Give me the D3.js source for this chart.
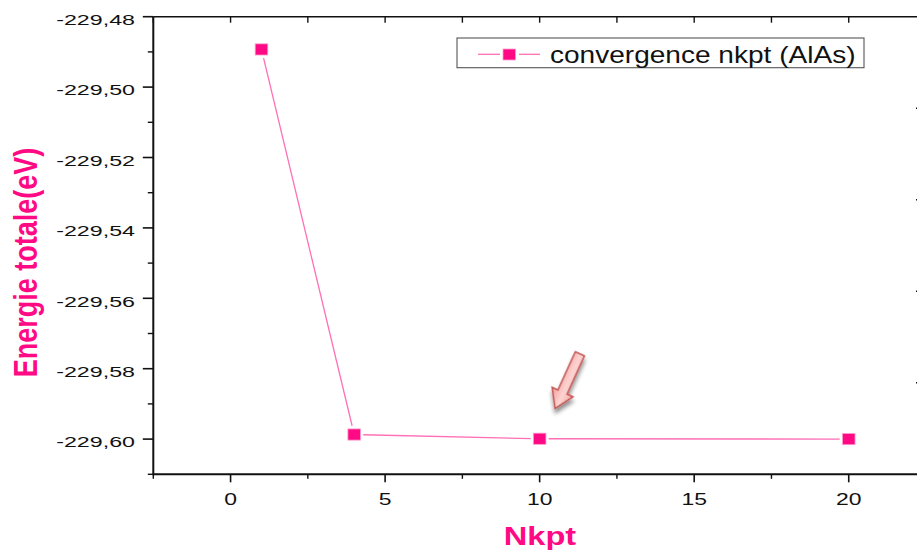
<!DOCTYPE html>
<html>
<head>
<meta charset="utf-8">
<script src="https://cdn.jsdelivr.net/npm/d3@7"></script>
<style>
  html, body { margin: 0; padding: 0; background: #fff; }
  svg { display: block; }
  text { font-family: Arial, "Liberation Sans", sans-serif; }
</style>
</head>
<body>
<svg id="chart" width="917" height="551"></svg>
<script>
// ---- data ----
const nkpt = [1, 4, 10, 20];
const energy = [-229.4893, -229.5987, -229.5999, -229.6000];
const seriesName = "convergence nkpt (AlAs)";
const xTicksMajor = [0, 5, 10, 15, 20];
const xTicksMinor = [-2.5, 2.5, 7.5, 12.5, 17.5, 22.5];
const yTicksMajor = [-229.60, -229.58, -229.56, -229.54, -229.52, -229.50, -229.48];
const yTicksMinor = [-229.61, -229.59, -229.57, -229.55, -229.53, -229.51, -229.49];
const rightTicks = [1, 2, 3, 4];
const arrowTip = [10.5, -229.5913];
const xTitle = "Nkpt";
const yTitle = "Energie totale(eV)";

const fmt = v => v.toFixed(2).replace(".", ",");

const svg = d3.select("#chart");
const L = 153.3, R = 926, T = 16.7, B = 474.3;
const x = d3.scaleLinear().domain([-2.5, 22.5]).range([L, R]);
const y = d3.scaleLinear().domain([-229.61, -229.48]).range([B, T]);
const yR = d3.scaleLinear().domain([0, 5]).range([B, T]);

const pink = "#ff0a84";
const lineCol = "#ff6fb6";

// ---- axes ----
const axisG = svg.append("g").attr("stroke", "#111").attr("fill", "none");
// frame lines
axisG.append("line").attr("x1", L).attr("x2", R).attr("y1", B).attr("y2", B).attr("stroke-width", 2);
axisG.append("line").attr("x1", L).attr("x2", R).attr("y1", T).attr("y2", T).attr("stroke-width", 1.6);
axisG.append("line").attr("x1", L).attr("x2", L).attr("y1", T).attr("y2", B + 1).attr("stroke-width", 2);
axisG.append("line").attr("x1", R).attr("x2", R).attr("y1", T).attr("y2", B).attr("stroke-width", 2);

// bottom ticks (outward)
xTicksMajor.forEach(v => axisG.append("line").attr("x1", x(v)).attr("x2", x(v)).attr("y1", B).attr("y2", B + 8).attr("stroke-width", 1.6));
xTicksMinor.forEach(v => axisG.append("line").attr("x1", x(v)).attr("x2", x(v)).attr("y1", B).attr("y2", B + 4.5).attr("stroke-width", 1.4));
// top ticks (inward)
xTicksMajor.concat(xTicksMinor).forEach(v => axisG.append("line").attr("x1", x(v)).attr("x2", x(v)).attr("y1", T).attr("y2", T + 6).attr("stroke-width", 1.4));
// left ticks (outward)
yTicksMajor.forEach(v => axisG.append("line").attr("x1", L - 10.5).attr("x2", L).attr("y1", y(v)).attr("y2", y(v)).attr("stroke-width", 1.6));
yTicksMinor.forEach(v => axisG.append("line").attr("x1", L - 5.5).attr("x2", L).attr("y1", y(v)).attr("y2", y(v)).attr("stroke-width", 1.4));
// right ticks (inward)
rightTicks.forEach(v => axisG.append("line").attr("x1", R - 10).attr("x2", R).attr("y1", yR(v)).attr("y2", yR(v)).attr("stroke-width", 1.6));

// tick labels
yTicksMajor.forEach(v => {
  svg.append("g").attr("transform", `translate(135,${y(v) + 8.3}) scale(1.5,1)`)
    .append("text").attr("text-anchor", "end").attr("font-size", 15.5).attr("fill", "#111").text(fmt(v));
});
xTicksMajor.forEach(v => {
  svg.append("g").attr("transform", `translate(${x(v)},505) scale(1.35,1)`)
    .append("text").attr("text-anchor", "middle").attr("font-size", 17).attr("fill", "#111").text(v);
});

// axis titles
svg.append("g").attr("transform", "translate(540,545) scale(1.23,1)")
  .append("text").attr("text-anchor", "middle").attr("font-size", 26.5).attr("font-weight", "bold").attr("fill", pink).text(xTitle);
svg.append("g").attr("transform", "translate(36.7,262.5) scale(1.24,1) rotate(-90)")
  .append("text").attr("text-anchor", "middle").attr("font-size", 27).attr("font-weight", "bold").attr("fill", pink).text(yTitle);

// ---- series line with gaps around markers ----
const pts = nkpt.map((v, i) => [x(v), y(energy[i])]);
const gap = 9;
const segG = svg.append("g").attr("stroke", lineCol).attr("stroke-width", 1.3).attr("fill", "none");
for (let i = 0; i < pts.length - 1; i++) {
  const [x1, y1] = pts[i], [x2, y2] = pts[i + 1];
  const d = Math.hypot(x2 - x1, y2 - y1);
  const ux = (x2 - x1) / d, uy = (y2 - y1) / d;
  segG.append("path").attr("d", d3.line()([[x1 + ux * gap, y1 + uy * gap], [x2 - ux * gap, y2 - uy * gap]]));
}
// markers
svg.append("g").selectAll("rect").data(nkpt).join("rect")
  .attr("x", (d) => x(d) - 6.3).attr("y", (d, i) => y(energy[i]) - 5.6)
  .attr("width", 12.6).attr("height", 11.2)
  .attr("fill", pink).attr("stroke", "#ff9fcf").attr("stroke-width", 0.8);

// ---- legend ----
const lg = svg.append("g");
lg.append("rect").attr("x", 457).attr("y", 38).attr("width", 407).attr("height", 29.7)
  .attr("fill", "#fff").attr("stroke", "#555").attr("stroke-width", 1.1);
lg.append("line").attr("x1", 478).attr("x2", 500).attr("y1", 54.3).attr("y2", 54.3).attr("stroke", lineCol).attr("stroke-width", 1.3);
lg.append("line").attr("x1", 519).attr("x2", 540).attr("y1", 54.3).attr("y2", 54.3).attr("stroke", lineCol).attr("stroke-width", 1.3);
lg.append("rect").attr("x", 503).attr("y", 49).attr("width", 12.6).attr("height", 11).attr("fill", pink).attr("stroke", "#ff9fcf").attr("stroke-width", 0.8);
lg.append("g").attr("transform", "translate(550,63.3) scale(1.22,1)")
  .append("text").attr("font-size", 23).attr("fill", "#111").text(seriesName);

// ---- arrow annotation ----
const defs = svg.append("defs");
const grad = defs.append("linearGradient").attr("id", "ag").attr("x1", 0).attr("x2", 1).attr("y1", 0).attr("y2", 0);
grad.append("stop").attr("offset", "0%").attr("stop-color", "#f59a98");
grad.append("stop").attr("offset", "55%").attr("stop-color", "#fcd4d2");
grad.append("stop").attr("offset", "100%").attr("stop-color", "#f6a8a6");
const flt = defs.append("filter").attr("id", "sh").attr("x", "-50%").attr("y", "-50%").attr("width", "200%").attr("height", "200%");
flt.append("feGaussianBlur").attr("in", "SourceAlpha").attr("stdDeviation", 2.2).attr("result", "b");
flt.append("feOffset").attr("in", "b").attr("dx", 2).attr("dy", 4).attr("result", "o");
flt.append("feComponentTransfer").attr("in", "o").attr("result", "o2")
  .append("feFuncA").attr("type", "linear").attr("slope", 0.45);
const fm = flt.append("feMerge");
fm.append("feMergeNode").attr("in", "o2");
fm.append("feMergeNode").attr("in", "SourceGraphic");

const arrowPath = "M-5,-60 L5,-60 L5,-18 L11.5,-18 L0,0 L-11.5,-18 L-5,-18 Z";
svg.append("path")
  .attr("transform", `translate(${x(arrowTip[0])},${y(arrowTip[1])}) rotate(24.4)`)
  .attr("d", arrowPath)
  .attr("fill", "url(#ag)").attr("stroke", "#c0504d").attr("stroke-width", 1.4)
  .attr("stroke-linejoin", "miter").attr("filter", "url(#sh)");
</script>
</body>
</html>
